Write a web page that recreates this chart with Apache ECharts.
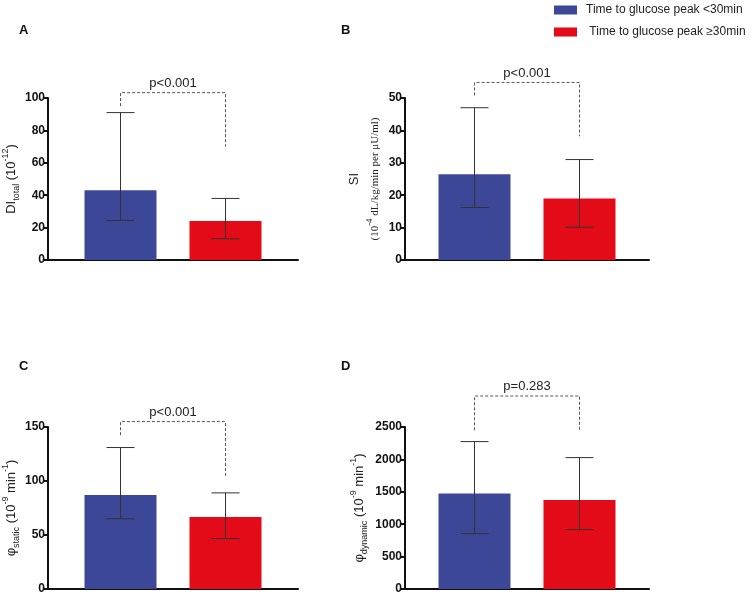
<!DOCTYPE html>
<html>
<head>
  <meta charset="utf-8">
  <script src="https://cdn.jsdelivr.net/npm/echarts@6/dist/echarts.min.js"></script>
  <style>
    body { margin: 0; background: #fff; }
    #chart { width: 752px; height: 598px; }
  </style>
</head>
<body>
  <div id="chart"></div>
  <script>
    // groups (legend names)
    var groups = ['Time to glucose peak <30min', ' Time to glucose peak \u226530min'];
    var colors = ['#3c4897', '#e20b17'];

    // panel A: DI total
    var meanA = [43, 24];
    var lowA = [24.4, 13.1];
    var highA = [91, 38];
    // panel B: SI
    var meanB = [26.5, 19];
    var lowB = [16.2, 10.1];
    var highB = [47, 31];
    // panel C: phi static
    var meanC = [87, 66.7];
    var lowC = [65, 46.7];
    var highC = [131, 89];
    // panel D: phi dynamic
    var meanD = [1472, 1373];
    var lowD = [855, 917];
    var highD = [2275, 2028];

    // significance brackets: [top, left end, right end]
    var bracketA = [103.3, 95, 70];
    var bracketB = [54.8, 50.8, 38.2];
    var bracketC = [155, 142.4, 104.8];
    var bracketD = [2978, 2449, 2449];
    var pTexts = ['p<0.001', 'p<0.001', 'p<0.001', 'p=0.283'];

    var yMax = [100, 50, 150, 2500];
    var yStep = [20, 10, 50, 500];

    var barW = 72, barGapPx = 33;
    var half = (barW + barGapPx) / 2;

    var grids = [
      { left: 48, top: 98, width: 250, height: 162 },
      { left: 405, top: 98, width: 244, height: 162 },
      { left: 48, top: 427, width: 250, height: 162 },
      { left: 405, top: 427, width: 244, height: 162 }
    ];

    var supS = { fontSize: 9, verticalAlign: 'top', fontFamily: 'Liberation Sans', color: '#222' };
    var subS = { fontSize: 9, verticalAlign: 'bottom', fontFamily: 'Liberation Sans', color: '#222' };
    var names = [
      '{m|DI}{sub|total}{m| (10}{sup|-12}{m|)}',
      '{m|SI}\n{s|(10}{ssup|-4}{s| dL/kg/min per \u03bcU/ml)}',
      '{m|\u03c6}{sub|static}{m| (10}{sup|-9}{m| min}{sup|-1}{m|)}',
      '{m|\u03c6}{sub|dynamic}{m| (10}{sup|-9}{m| min}{sup|-1}{m|)}'
    ];
    var nameGaps = [27, 18, 27, 36];

    var means = [meanA, meanB, meanC, meanD];
    var lows = [lowA, lowB, lowC, lowD];
    var highs = [highA, highB, highC, highD];
    var brackets = [bracketA, bracketB, bracketC, bracketD];

    var xAxes = [], yAxes = [], series = [];
    grids.forEach(function (g, i) {
      xAxes.push({
        type: 'category', gridIndex: i, data: ['g'],
        axisLine: { lineStyle: { color: '#111', width: 2 } },
        axisTick: { show: false }, axisLabel: { show: false }
      });
      yAxes.push({
        type: 'value', gridIndex: i, min: 0, max: yMax[i], interval: yStep[i],
        splitLine: { show: false },
        axisLine: { show: true, lineStyle: { color: '#111', width: 2 } },
        axisTick: { show: true, length: 5, lineStyle: { color: '#111', width: 2 } },
        axisLabel: {
          color: '#111', fontWeight: 'bold', fontSize: 12, fontFamily: 'Liberation Sans', margin: 3,
          formatter: function (v) { return String(v); }
        },
        name: names[i], nameLocation: 'middle', nameGap: nameGaps[i], nameRotate: 90,
        nameTextStyle: {
          color: '#222', fontSize: 13, fontFamily: 'Liberation Sans', lineHeight: 20,
          rich: {
            m: { fontSize: 13, fontFamily: 'Liberation Sans', color: '#222' },
            s: { fontSize: 11, fontFamily: 'Liberation Serif', color: '#222' },
            ssup: { fontSize: 9, verticalAlign: 'top', fontFamily: 'Liberation Serif', color: '#222' },
            sup: supS, sub: subS
          }
        }
      });
      groups.forEach(function (name, k) {
        series.push({
          name: name, type: 'bar', xAxisIndex: i, yAxisIndex: i,
          barWidth: barW, barGap: (barGapPx / barW * 100) + '%',
          itemStyle: { color: colors[k] },
          data: [means[i][k]]
        });
      });
      // error bars
      series.push({
        type: 'custom', xAxisIndex: i, yAxisIndex: i, z: 5, silent: true,
        data: [0, 1].map(function (k) { return [0, lows[i][k], highs[i][k], k]; }),
        encode: { x: 0, y: [1, 2] },
        renderItem: function (params, api) {
          var k = api.value(3);
          var lo = api.coord([0, api.value(1)]);
          var hi = api.coord([0, api.value(2)]);
          var x = lo[0] + (k === 0 ? -half : half);
          var cw = 14;
          var st = { stroke: '#333', lineWidth: 1 };
          return {
            type: 'group', children: [
              { type: 'line', shape: { x1: x, y1: lo[1], x2: x, y2: hi[1] }, style: st },
              { type: 'line', shape: { x1: x - cw, y1: hi[1], x2: x + cw, y2: hi[1] }, style: st },
              { type: 'line', shape: { x1: x - cw, y1: lo[1], x2: x + cw, y2: lo[1] }, style: st }
            ]
          };
        }
      });
      // significance bracket
      series.push({
        type: 'custom', xAxisIndex: i, yAxisIndex: i, z: 6, silent: true, clip: false,
        data: [[0].concat(brackets[i])],
        encode: { x: 0, y: 1 },
        renderItem: function (params, api) {
          var top = api.coord([0, api.value(1)]);
          var l = api.coord([0, api.value(2)]);
          var r = api.coord([0, api.value(3)]);
          var xl = top[0] - half, xr = top[0] + half;
          return {
            type: 'group', children: [
              {
                type: 'polyline',
                shape: { points: [[xl, l[1]], [xl, top[1]], [xr, top[1]], [xr, r[1]]] },
                style: { stroke: '#555', lineWidth: 1, lineDash: [3, 2], fill: null }
              },
              {
                type: 'text',
                style: {
                  x: top[0], y: top[1] - 3, text: pTexts[i],
                  textAlign: 'center', textVerticalAlign: 'bottom',
                  font: '13px "Liberation Sans"', fill: '#222'
                }
              }
            ]
          };
        }
      });
    });

    var chart = echarts.init(document.getElementById('chart'));
    chart.setOption({
      backgroundColor: '#fff',
      animation: false,
      legend: {
        data: groups, orient: 'vertical', left: 554, top: 4, padding: 0,
        itemWidth: 23, itemHeight: 9, itemGap: 10,
        textStyle: { color: '#222', fontSize: 12, fontFamily: 'Liberation Sans', padding: [0, 0, 0, 4] },
        icon: 'rect'
      },
      graphic: [
        { type: 'text', left: 19, top: 24, style: { text: 'A', font: 'bold 13px "Liberation Sans"', fill: '#111' } },
        { type: 'text', left: 341, top: 24, style: { text: 'B', font: 'bold 13px "Liberation Sans"', fill: '#111' } },
        { type: 'text', left: 19, top: 360, style: { text: 'C', font: 'bold 13px "Liberation Sans"', fill: '#111' } },
        { type: 'text', left: 341, top: 360, style: { text: 'D', font: 'bold 13px "Liberation Sans"', fill: '#111' } }
      ],
      grid: grids,
      xAxis: xAxes,
      yAxis: yAxes,
      series: series
    });
  </script>
</body>
</html>
